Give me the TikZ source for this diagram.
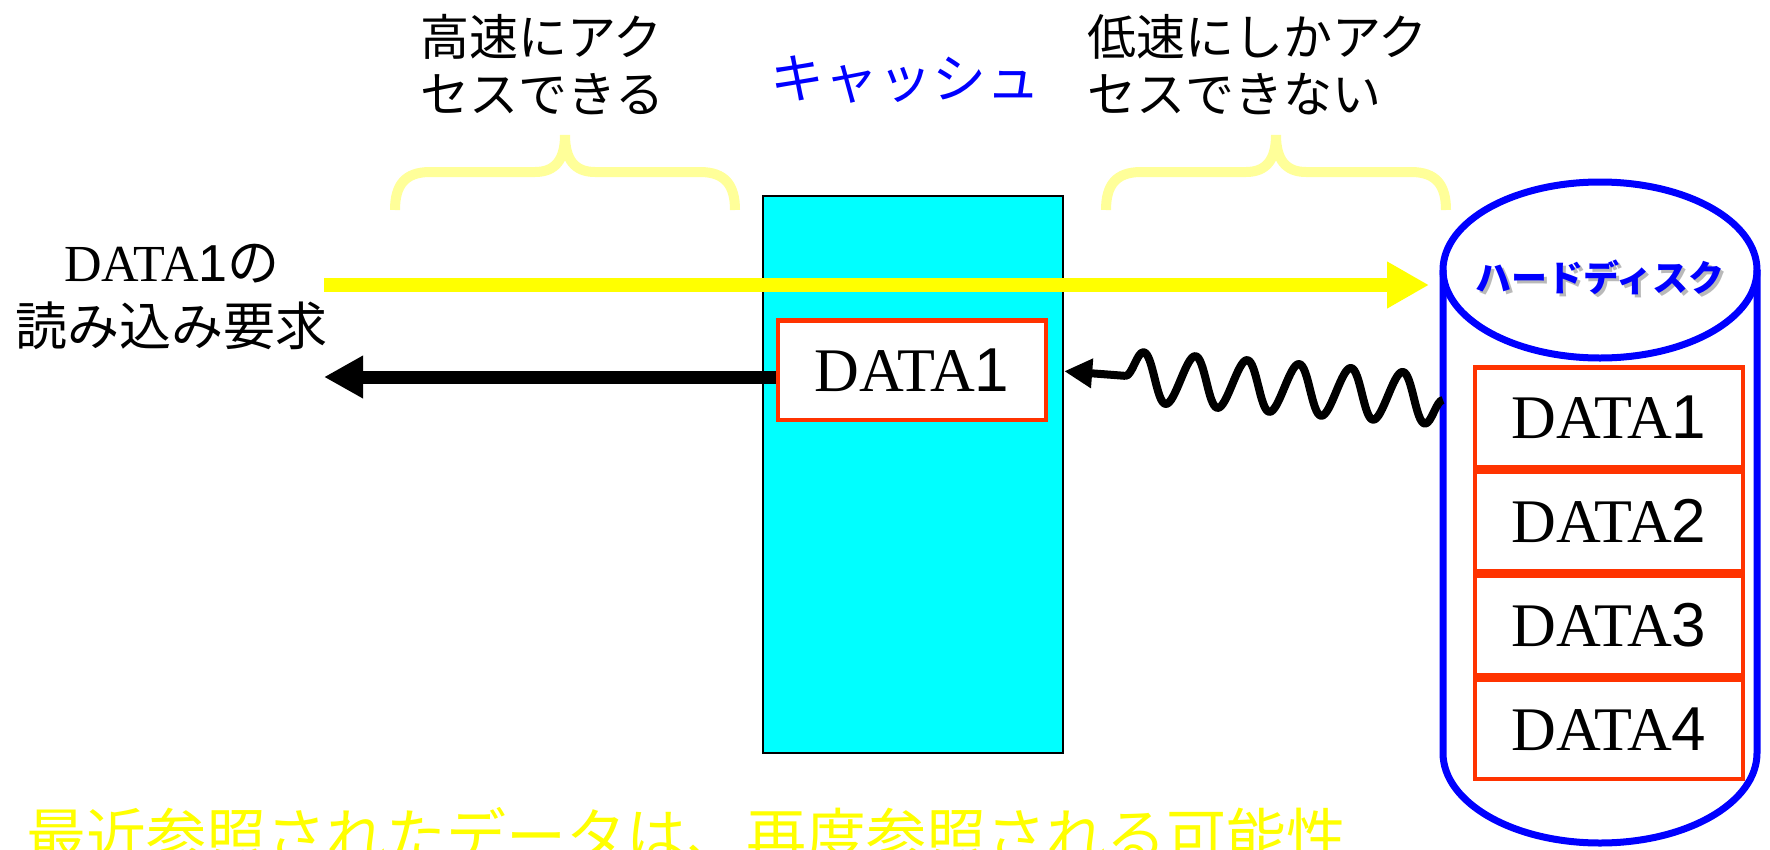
\documentclass[tikz,border=0pt]{standalone}
\usepackage{fontspec}
\setmainfont{Liberation Serif}
\setsansfont{Liberation Sans}
\newfontfamily\jp{Noto Sans CJK JP}
\usepackage{tikz}
\usetikzlibrary{positioning,arrows.meta,shapes.geometric,decorations.pathmorphing}

\definecolor{cachecyan}{RGB}{0,255,255}
\definecolor{datared}{RGB}{255,51,0}
\definecolor{bracey}{RGB}{255,255,153}
\definecolor{diskblue}{RGB}{0,0,255}
\definecolor{reqyellow}{RGB}{255,255,0}

\newcommand{\dat}[1]{DATA{\sffamily #1}}

\tikzset{
  databox/.style={draw=datared,line width=4.5,fill=white,minimum width=268,minimum height=99.5,inner sep=0,font=\fontsize{62}{70}\selectfont},
  cachebox/.style={draw=black,line width=2,fill=cachecyan,minimum width=300,minimum height=557,inner sep=0},
  disktop/.style={ellipse,draw=diskblue,line width=7,fill=white,minimum width=314,minimum height=176,inner sep=0,outer sep=0},
  diskline/.style={draw=diskblue,line width=7},
  note/.style={anchor=west,align=left,inner sep=0,font=\jp\fontsize{49}{57}\selectfont},
  brace/.style={draw=bracey,line width=10},
  reqarrow/.style={draw=reqyellow,line width=14,-{Stealth[length=42pt,width=44pt,inset=0pt]}},
  backarrow/.style={line width=13,-{Stealth[length=39pt,width=40pt,inset=0pt]}},
  snakearrow/.style={line width=8,line join=round,decorate,
    decoration={snake,amplitude=25pt,segment length=52pt,post length=60pt},
    -{Stealth[length=28pt,width=28pt,inset=0pt]}}
}

\begin{document}
\begin{tikzpicture}[x=1pt,y=1pt]
  \useasboundingbox (0,0) rectangle (1770,-849);
  \clip (0,0) rectangle (1770,-849);

  % cache
  \node[cachebox] (cache) at (913,-474.5) {};
  \node[text=diskblue,font=\jp\fontsize{54}{60}\selectfont] (cachelabel) at (905,-80) {キャッシュ};
  \node[databox] (cd) at (912,-370) {\dat{1}};

  % labels and braces
  \node[note] (fast) at (420,-65) {高速にアク\\セスできる};
  \node[note] (slow) at (1087,-65) {低速にしかアク\\セスできない};
  \foreach \bx in {565,1276}
    \draw[brace] (\bx-170,-210) .. controls (\bx-170,-185) and (\bx-160,-172) .. (\bx-135,-172)
      -- (\bx-30,-172) .. controls (\bx-10,-172) and (\bx,-160) .. (\bx,-135)
      .. controls (\bx,-160) and (\bx+10,-172) .. (\bx+30,-172)
      -- (\bx+135,-172) .. controls (\bx+160,-172) and (\bx+170,-185) .. (\bx+170,-210);

  % request
  \node[align=center,inner sep=0,font=\fontsize{52}{64}\selectfont] (req) at (172,-297) {\dat{1}{\jp の}\\{\jp 読み込み要求}};
  \coordinate (reqin) at (324,-285);
  \coordinate (reqout) at (324,-377);

  % hard disk
  \node[disktop] (hdd) at (1600,-270) {};
  \draw[diskline] (hdd.west) -- (1443,-753) arc[start angle=180,end angle=360,x radius=157,y radius=90] -- (hdd.east);
  \node[text=gray!55,font=\jp\bfseries\fontsize{36}{40}\selectfont] (hddshadow) at ([shift={(3,-10)}]hdd.center) {ハードディスク};
  \node[text=diskblue,font=\jp\bfseries\fontsize{36}{40}\selectfont] (hddlabel) at ([yshift=-7]hdd.center) {ハードディスク};
  \node[databox] (d1) at (1609,-417) {\dat{1}};
  \node[databox,below=0pt of d1] (d2) {\dat{2}};
  \node[databox,below=0pt of d2] (d3) {\dat{3}};
  \node[databox,below=0pt of d3] (d4) {\dat{4}};
  \coordinate (diskout) at (1443,-400);

  % arrows
  \draw[reqarrow,shorten >=14pt] (reqin) -- (hdd.west |- reqin);
  \draw[backarrow] (cd.west |- reqout) -- (reqout);
  \draw[snakearrow,shorten >=16pt] (diskout) -- (cd.east);

  \node[anchor=base west,inner sep=0,text=reqyellow,font=\jp\fontsize{60}{60}\selectfont] (hint) at (26,-858) {最近参照されたデータは、再度参照される可能性};
\end{tikzpicture}
\end{document}
